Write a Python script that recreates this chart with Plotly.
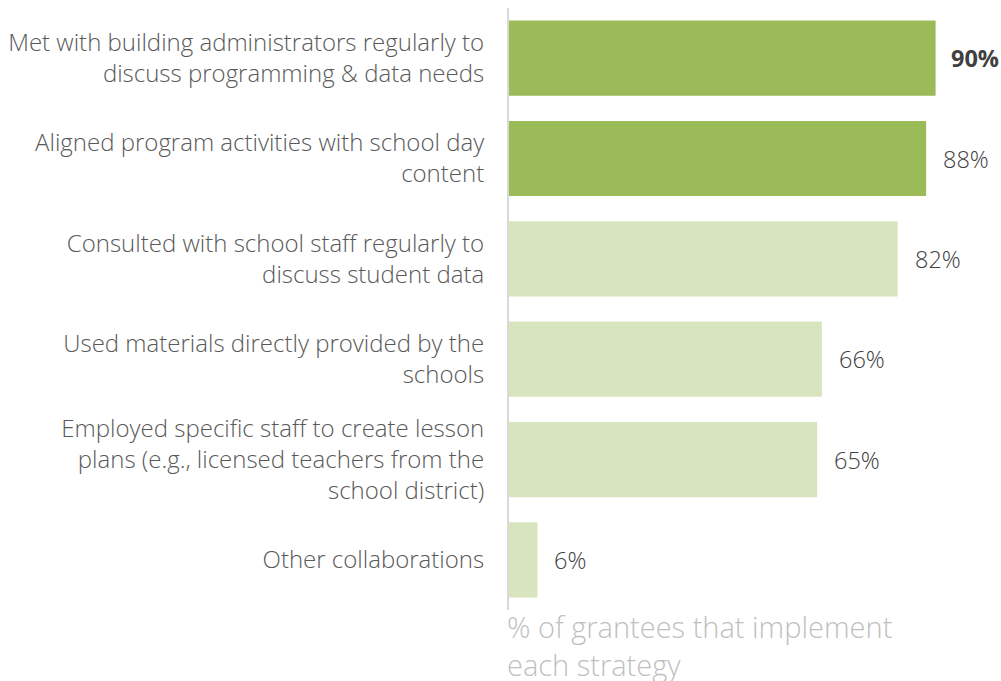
import plotly.graph_objects as go

strategies = [
    "Met with building administrators regularly to<br>discuss programming & data needs",
    "Aligned program activities with school day<br>content",
    "Consulted with school staff regularly to<br>discuss student data",
    "Used materials directly provided by the<br>schools",
    "Employed specific staff to create lesson<br>plans (e.g., licensed teachers from the<br>school district)",
    "Other collaborations",
]
percent = [90, 88, 82, 66, 65, 6]
value_labels = ["90%", "88%", "82%", "66%", "65%", "6%"]
highlight = [True, True, False, False, False, False]

DARK_GREEN = "#9BBB59"
LIGHT_GREEN = "#D7E4BD"
FONT = "Open Sans"

fig = go.Figure()
fig.add_trace(go.Bar(
    x=percent,
    y=strategies,
    orientation="h",
    marker=dict(color=[DARK_GREEN if h else LIGHT_GREEN for h in highlight], line=dict(width=0)),
    hoverinfo="skip",
))

for s, v, lab, h in zip(strategies, percent, value_labels, highlight):
    fig.add_annotation(
        x=v, y=s, xref="x", yref="y",
        text=f"<b>{lab}</b>" if lab == "90%" else lab,
        showarrow=False, xanchor="left", yanchor="middle",
        xshift=13 if lab == "90%" else 15,
        font=dict(family=FONT, size=23.5, color="#404040", weight=300),
    )

fig.add_annotation(
    x=0, y=0, xref="x", yref="paper",
    text="% of grantees that implement<br>each strategy",
    showarrow=False, xanchor="left", yanchor="top", align="left",
    xshift=-4, yshift=5,
    font=dict(family=FONT, size=29, color="#BFBFBF", weight=300),
)

fig.update_layout(
    width=1001, height=681,
    margin=dict(l=509, r=18, t=8, b=71),
    plot_bgcolor="white", paper_bgcolor="white",
    bargap=0.25,
    showlegend=False,
    font=dict(family=FONT, color="#595959"),
)
fig.update_xaxes(range=[0, 100], visible=False, fixedrange=True)
fig.update_yaxes(
    autorange="reversed",
    showline=True, linecolor="#D9D9D9", linewidth=2,
    showgrid=False, zeroline=False,
    ticks="", ticklabelstandoff=18,
    tickfont=dict(family=FONT, size=24, color="#595959", weight=300),
)

fig.write_html("out.html")
